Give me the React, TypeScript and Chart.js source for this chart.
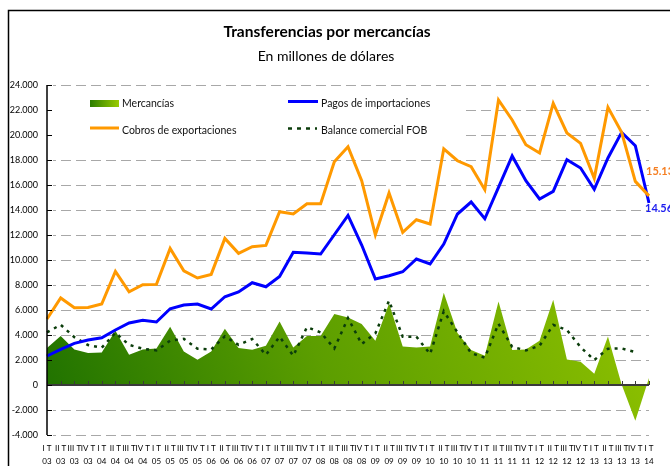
import React, { useEffect, useRef } from "react";
import { Chart, registerables } from "chart.js";

Chart.register(...registerables);

const FONT = "Lato, 'Open Sans', 'DejaVu Sans', sans-serif";

const quarterNames = ["I T", "II T", "III T", "IV T"];
const yearLabels = ["03", "04", "05", "06", "07", "08", "09", "10", "11", "12", "13", "14"];
const categories: string[][] = [];
yearLabels.forEach((yy, yi) =>
  quarterNames.forEach((q, qi) => {
    if (yi < yearLabels.length - 1 || qi === 0) categories.push([q, yy]);
  })
);

const cobros = [5280, 6960, 6180, 6200, 6480, 9090, 7460, 8020, 8050, 10930, 9140, 8560, 8850, 11730, 10530, 11060, 11170, 13860, 13680, 14500, 14500, 17860, 19060, 16340, 12020, 15360, 12210, 13220, 12880, 18900, 17940, 17460, 15620, 22800, 21200, 19220, 18560, 22530, 20160, 19330, 16530, 22210, 20210, 16290, 15130];
const pagos = [2320, 2850, 3330, 3600, 3780, 4400, 4960, 5170, 5040, 6100, 6400, 6480, 6080, 7060, 7440, 8180, 7860, 8690, 10610, 10560, 10480, 12020, 13570, 11200, 8480, 8740, 9060, 10080, 9680, 11280, 13680, 14640, 13300, 15810, 18320, 16340, 14880, 15490, 18020, 17360, 15650, 18160, 20210, 19140, 14560];
const mercancias = [2960, 3920, 2850, 2560, 2610, 4340, 2420, 2850, 2930, 4660, 2690, 2020, 2690, 4500, 2960, 2820, 3140, 5090, 3010, 3920, 3920, 5680, 5410, 4880, 3540, 6530, 3090, 3010, 3090, 7380, 4160, 2800, 2340, 6690, 2800, 2850, 3540, 6820, 2050, 1860, 900, 3890, 50, -2860, 570];
const balance = [4210, 4820, 3830, 3200, 2980, 4180, 3210, 2900, 2770, 3540, 3700, 2900, 2840, 3900, 3210, 3680, 2410, 3860, 2340, 4630, 4210, 2920, 5360, 3280, 4130, 6740, 3860, 3860, 2480, 5900, 4210, 2550, 2190, 4900, 3050, 2770, 3140, 4810, 4400, 3030, 2000, 2900, 2930, 2630, null];

const Y_MIN = -4000;
const Y_MAX = 24000;
const Y_STEP = 2000;
const lastCobrosLabel = "15.13";
const lastPagosLabel = "14.56";

const TITLE = "Transferencias por mercancías";
const SUBTITLE = "En millones de dólares";

function fmt(v: number): string {
  const s = String(Math.abs(v)).replace(/\B(?=(\d{3})+(?!\d))/g, ".");
  return (v < 0 ? "-" : "") + s;
}

const decor = {
  id: "decor",
  beforeDatasetsDraw(chart: any) {
    const { ctx, chartArea: ca, scales } = chart;
    const y = scales.y;
    ctx.save();
    ctx.strokeStyle = "#a8a8a8";
    ctx.lineWidth = 1;
    ctx.setLineDash([10, 5]);
    ctx.lineDashOffset = -8;
    y.ticks.forEach((t: any) => {
      if (t.value === 0) return;
      const py = Math.round(y.getPixelForValue(t.value)) + 0.5;
      ctx.beginPath();
      ctx.moveTo(ca.left + 6, py);
      ctx.lineTo(ca.right, py);
      ctx.stroke();
    });
    ctx.setLineDash([]);
    ctx.fillStyle = "#ffffff";
    ctx.fillRect(ca.left + 1, 88, 413, 62);
    ctx.restore();
  },
  afterDatasetsDraw(chart: any) {
    const { ctx, chartArea: ca, scales } = chart;
    const { x, y } = scales;
    ctx.save();
    const y0 = y.getPixelForValue(0);
    ctx.strokeStyle = "#3a3a3a";
    ctx.lineWidth = 2;
    ctx.beginPath();
    ctx.moveTo(ca.left, y0);
    ctx.lineTo(ca.right, y0);
    ctx.stroke();
    ctx.lineWidth = 1;
    categories.forEach((_, i) => {
      const px = Math.round(x.getPixelForValue(i)) + 0.5;
      ctx.beginPath();
      ctx.moveTo(px, y0 - 4);
      ctx.lineTo(px, y0);
      ctx.stroke();
    });
    // y axis
    ctx.strokeStyle = "#000";
    ctx.lineWidth = 1.5;
    ctx.beginPath();
    ctx.moveTo(ca.left, ca.top);
    ctx.lineTo(ca.left, ca.bottom);
    ctx.stroke();
    ctx.lineWidth = 1;
    y.ticks.forEach((t: any) => {
      const py = Math.round(y.getPixelForValue(t.value)) + 0.5;
      ctx.beginPath();
      ctx.moveTo(ca.left, py);
      ctx.lineTo(ca.left + 5, py);
      ctx.stroke();
    });
    // end labels
    const li = categories.length - 1;
    const lx = x.getPixelForValue(li);
    ctx.font = `bold 11px ${FONT}`;
    ctx.textBaseline = "middle";
    ctx.textAlign = "left";
    ctx.fillStyle = "#f57f22";
    ctx.fillText(lastCobrosLabel, lx - 3, y.getPixelForValue(cobros[li]) - 24);
    ctx.fillStyle = "#1c1cf0";
    ctx.fillText(lastPagosLabel, lx - 4, y.getPixelForValue(pagos[li]) + 5);
    ctx.restore();
  },
  afterDraw(chart: any) {
    const { ctx } = chart;
    ctx.save();
    // frame
    ctx.strokeStyle = "#000";
    ctx.lineWidth = 1.5;
    ctx.beginPath();
    ctx.moveTo(670, 10.5);
    ctx.lineTo(8.5, 10.5);
    ctx.lineTo(8.5, 466);
    ctx.stroke();
    // titles
    ctx.fillStyle = "#000";
    ctx.textAlign = "center";
    ctx.textBaseline = "middle";
    ctx.font = `bold 15.5px ${FONT}`;
    ctx.fillText(TITLE, 327, 32);
    ctx.font = `14px ${FONT}`;
    ctx.fillText(SUBTITLE, 326, 56);
    // legend
    ctx.textAlign = "left";
    ctx.font = `10.5px ${FONT}`;
    const g = ctx.createLinearGradient(90, 0, 119, 0);
    g.addColorStop(0, "#2b7d00");
    g.addColorStop(1, "#9acc00");
    ctx.fillStyle = g;
    ctx.fillRect(90, 100, 29, 7);
    ctx.fillStyle = "#111";
    ctx.fillText("Mercancías", 122, 104);
    ctx.fillText("Cobros de exportaciones", 122, 131);
    ctx.fillText("Pagos de importaciones", 321, 104);
    ctx.fillText("Balance comercial FOB", 321, 131);
    ctx.lineWidth = 3;
    ctx.strokeStyle = "#ff9900";
    ctx.beginPath();
    ctx.moveTo(90, 128);
    ctx.lineTo(119, 128);
    ctx.stroke();
    ctx.strokeStyle = "#0000ff";
    ctx.beginPath();
    ctx.moveTo(288, 101.5);
    ctx.lineTo(318, 101.5);
    ctx.stroke();
    ctx.strokeStyle = "#0b3d0b";
    ctx.lineWidth = 2.5;
    ctx.setLineDash([4, 5]);
    ctx.beginPath();
    ctx.moveTo(288, 128.5);
    ctx.lineTo(317, 128.5);
    ctx.stroke();
    ctx.restore();
  },
};

export default function App() {
  const ref = useRef<HTMLCanvasElement>(null);
  useEffect(() => {
    const canvas = ref.current!;
    const chart = new Chart(canvas, {
      type: "line",
      data: {
        labels: categories,
        datasets: [
          { label: "Cobros de exportaciones", data: cobros, borderColor: "#ff9900", borderWidth: 3, pointRadius: 0, fill: false, order: 0 },
          { label: "Pagos de importaciones", data: pagos, borderColor: "#0000ff", borderWidth: 3, pointRadius: 0, fill: false, order: 1 },
          { label: "Balance comercial FOB", data: balance, borderColor: "#0b3d0b", borderWidth: 2.5, borderDash: [3, 5], pointRadius: 0, fill: false, order: 2 },
          {
            label: "Mercancías",
            data: mercancias,
            borderWidth: 0,
            borderColor: "rgba(0,0,0,0)",
            pointRadius: 0,
            fill: "origin",
            order: 3,
            backgroundColor: (c: any) => {
              const ch = c.chart;
              const ca = ch.chartArea;
              if (!ca) return "#5a9e00";
              const ys = ch.scales.y;
              const gr = ch.ctx.createLinearGradient(ca.left, ys.getPixelForValue(0), ca.right, ys.getPixelForValue(20000));
              gr.addColorStop(0, "#217300");
              gr.addColorStop(0.4, "#5c9e00");
              gr.addColorStop(0.8, "#84ba00");
              gr.addColorStop(1, "#a0cc00");
              return gr;
            },
          },
        ],
      } as any,
      options: {
        responsive: false,
        animation: false,
        layout: { padding: { top: 85, right: 21, left: 0, bottom: 0 } },
        plugins: { legend: { display: false }, title: { display: false }, tooltip: { enabled: false } },
        scales: {
          x: {
            grid: { display: false, drawTicks: false },
            border: { display: false },
            ticks: { autoSkip: false, maxRotation: 0, minRotation: 0, padding: 7, color: "#000", font: { family: FONT, size: 8, lineHeight: 1.6 } },
            afterFit: (s: any) => { s.height = 31; },
          },
          y: {
            min: Y_MIN,
            max: Y_MAX,
            grid: { display: false, drawTicks: false },
            border: { display: false },
            ticks: { stepSize: Y_STEP, padding: 9, color: "#000", font: { family: FONT, size: 9 }, callback: (v: any) => fmt(Number(v)) },
            afterFit: (s: any) => { s.width = 47; },
          },
        },
      } as any,
      plugins: [decor],
    });
    return () => chart.destroy();
  }, []);
  return (
    <div style={{ position: "absolute", left: 0, top: 0, width: 670, height: 466, background: "#fff" }}>
      <canvas ref={ref} width={670} height={466} style={{ display: "block" }} />
    </div>
  );
}
